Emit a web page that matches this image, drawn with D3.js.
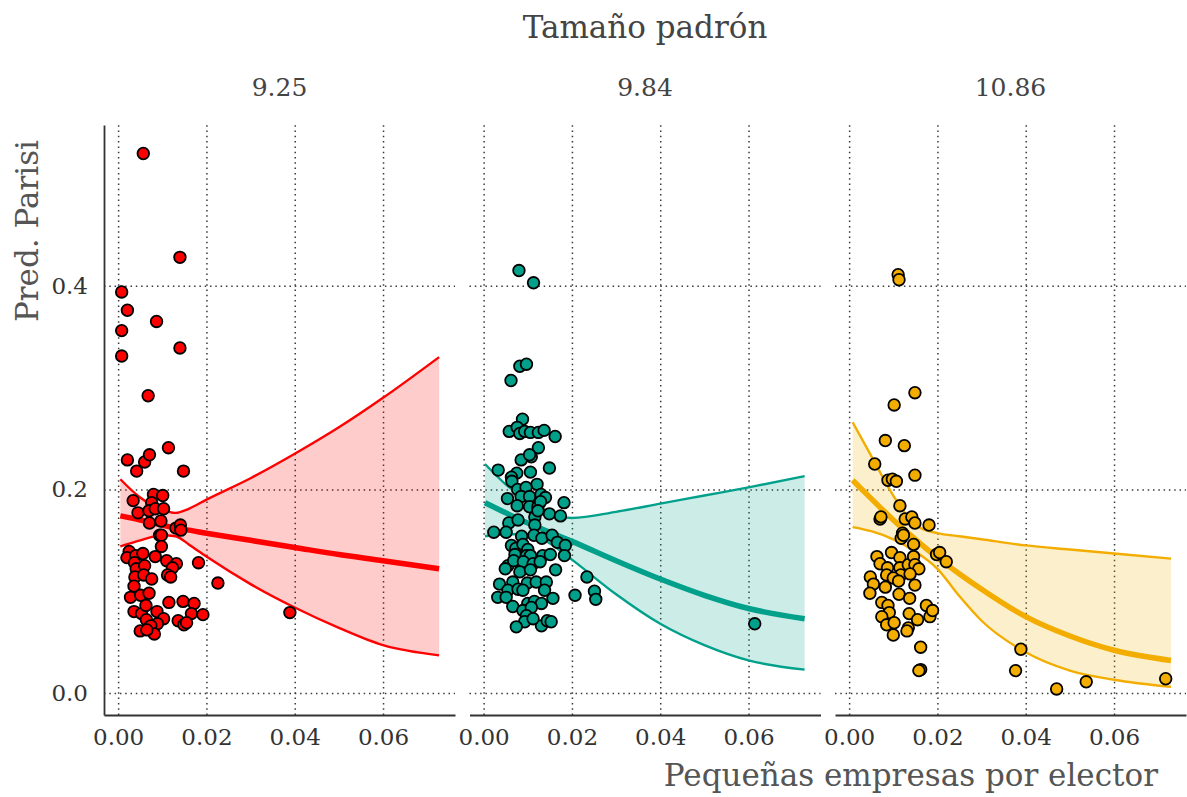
<!DOCTYPE html>
<html>
<head>
<meta charset="utf-8">
<script src="https://cdn.jsdelivr.net/npm/d3@7"></script>
<style>
  body { margin: 0; background: #fff; }
  text { font-family: "DejaVu Serif", serif; }
  .grid line { stroke: #3a3a3a; stroke-width: 1.5; stroke-dasharray: 1.5,3.8; }
  .grid path { display: none; }
</style>
</head>
<body>
<div id="chart"></div>
<script>
// facet labels and colours
const panelLabels = ["9.25", "9.84", "10.86"];
const panelColors = ["#FF0000", "#00A08A", "#F2AD00"];
const xTicks = [0, 0.02, 0.04, 0.06];
const yTicks = [0, 0.2, 0.4];

// observed points [pequeñas empresas por elector, pred. Parisi]
const pointsRed = [
  [0.0057,0.530],[0.0140,0.428],[0.0008,0.394],[0.0021,0.376],[0.0087,0.365],[0.0008,0.356],
  [0.0140,0.339],[0.0008,0.331],[0.0068,0.292],
  [0.0021,0.229],[0.0060,0.227],[0.0071,0.234],[0.0114,0.241],[0.0042,0.218],[0.0148,0.218],
  [0.0034,0.189],[0.0080,0.195],[0.0101,0.194],[0.0076,0.187],[0.0045,0.177],[0.0070,0.179],
  [0.0084,0.181],[0.0103,0.181],[0.0071,0.167],[0.0097,0.169],[0.0131,0.162],[0.0141,0.165],
  [0.0142,0.160],[0.0094,0.155],[0.0098,0.155],[0.0098,0.144],[0.0025,0.139],[0.0020,0.133],
  [0.0040,0.135],[0.0056,0.137],[0.0037,0.128],[0.0041,0.122],[0.0060,0.125],[0.0084,0.134],
  [0.0110,0.130],[0.0132,0.127],[0.0123,0.123],[0.0182,0.128],[0.0038,0.114],[0.0058,0.116],
  [0.0076,0.112],[0.0112,0.116],[0.0119,0.114],[0.0036,0.105],[0.0226,0.108],[0.0028,0.094],
  [0.0051,0.096],[0.0070,0.098],[0.0036,0.080],[0.0053,0.078],[0.0063,0.086],[0.0088,0.080],
  [0.0115,0.089],[0.0147,0.090],[0.0172,0.088],[0.0166,0.078],[0.0192,0.077],[0.0064,0.072],
  [0.0103,0.073],[0.0136,0.071],[0.0149,0.067],[0.0155,0.069],[0.0050,0.061],[0.0072,0.065],
  [0.0089,0.068],[0.0074,0.066],[0.0082,0.058],[0.0065,0.062],[0.0389,0.079]
];
const pointsTeal = [
  [0.0080,0.415],[0.0113,0.403],[0.0082,0.321],[0.0097,0.323],[0.0062,0.307],
  [0.0088,0.269],[0.0058,0.257],[0.0076,0.261],[0.0082,0.255],[0.0093,0.257],[0.0106,0.256],
  [0.0124,0.256],[0.0137,0.258],[0.0162,0.252],[0.0124,0.241],[0.0108,0.232],[0.0085,0.229],
  [0.0104,0.234],[0.0033,0.219],[0.0075,0.216],[0.0106,0.217],[0.0149,0.221],[0.0063,0.212],
  [0.0064,0.208],[0.0121,0.205],[0.0077,0.200],[0.0096,0.202],[0.0054,0.191],[0.0085,0.193],
  [0.0104,0.193],[0.0130,0.195],[0.0140,0.192],[0.0182,0.187],[0.0076,0.184],[0.0104,0.183],
  [0.0123,0.183],[0.0129,0.188],[0.0149,0.176],[0.0174,0.174],[0.0057,0.167],[0.0078,0.170],
  [0.0116,0.173],[0.0123,0.179],[0.0023,0.158],[0.0051,0.158],[0.0086,0.154],[0.0116,0.165],
  [0.0114,0.155],[0.0132,0.152],[0.0155,0.155],[0.0167,0.148],[0.0185,0.145],[0.0183,0.135],
  [0.0063,0.145],[0.0073,0.142],[0.0089,0.146],[0.0100,0.141],[0.0071,0.136],[0.0097,0.135],
  [0.0106,0.135],[0.0134,0.135],[0.0151,0.136],[0.0055,0.125],[0.0068,0.130],[0.0090,0.129],
  [0.0112,0.127],[0.0128,0.129],[0.0049,0.122],[0.0082,0.119],[0.0106,0.121],[0.0163,0.121],
  [0.0234,0.114],[0.0036,0.107],[0.0066,0.109],[0.0099,0.108],[0.0119,0.109],[0.0142,0.109],
  [0.0032,0.094],[0.0055,0.101],[0.0078,0.102],[0.0089,0.101],[0.0138,0.101],[0.0157,0.093],
  [0.0051,0.094],[0.0066,0.085],[0.0100,0.088],[0.0115,0.090],[0.0131,0.088],[0.0207,0.096],
  [0.0251,0.100],[0.0254,0.092],[0.0089,0.081],[0.0108,0.084],[0.0097,0.076],[0.0093,0.070],
  [0.0074,0.065],[0.0131,0.066],[0.0144,0.071],[0.0153,0.070],[0.0112,0.073],[0.0614,0.068]
];
const pointsYellow = [
  [0.0111,0.411],[0.0113,0.406],[0.0149,0.295],[0.0102,0.283],
  [0.0082,0.248],[0.0125,0.243],[0.0058,0.225],[0.0149,0.214],[0.0088,0.209],[0.0098,0.210],
  [0.0107,0.208],[0.0115,0.184],[0.0070,0.171],[0.0072,0.173],[0.0127,0.171],[0.0142,0.173],
  [0.0149,0.167],[0.0181,0.165],[0.0121,0.157],[0.0118,0.152],[0.0123,0.155],[0.0146,0.146],
  [0.0198,0.136],[0.0205,0.138],[0.0220,0.129],[0.0063,0.134],[0.0096,0.138],[0.0115,0.133],
  [0.0070,0.127],[0.0087,0.123],[0.0115,0.123],[0.0134,0.126],[0.0146,0.134],[0.0149,0.126],
  [0.0158,0.122],[0.0085,0.116],[0.0117,0.116],[0.0048,0.114],[0.0055,0.107],[0.0082,0.104],
  [0.0100,0.113],[0.0112,0.110],[0.0138,0.117],[0.0047,0.098],[0.0149,0.106],[0.0113,0.097],
  [0.0137,0.093],[0.0074,0.089],[0.0088,0.086],[0.0091,0.079],[0.0136,0.078],[0.0175,0.086],
  [0.0183,0.075],[0.0189,0.081],[0.0074,0.075],[0.0085,0.067],[0.0102,0.069],[0.0155,0.072],
  [0.0134,0.064],[0.0131,0.061],[0.0100,0.057],[0.0162,0.045],[0.0162,0.023],[0.0158,0.022],
  [0.0389,0.043],[0.0377,0.022],[0.0470,0.004],[0.0537,0.011],[0.0717,0.014]
];

// predicted curve with interval
const fitXRed = [0.0005, 0.005, 0.01, 0.013, 0.016, 0.02, 0.03, 0.04, 0.05, 0.06, 0.0727];
const meanRed = [0.174, 0.170, 0.165, 0.162, 0.160, 0.157, 0.150, 0.143, 0.136, 0.130, 0.122];
const highRed = [0.210, 0.192, 0.180, 0.177, 0.181, 0.190, 0.211, 0.235, 0.261, 0.290, 0.330];
const lowRed  = [0.144, 0.150, 0.155, 0.154, 0.146, 0.134, 0.107, 0.084, 0.064, 0.047, 0.037];

const fitXTeal = [0.0003, 0.005, 0.01, 0.015, 0.02, 0.03, 0.04, 0.05, 0.06, 0.0727];
const meanTeal = [0.187, 0.177, 0.167, 0.158, 0.149, 0.130, 0.112, 0.096, 0.083, 0.073];
const highTeal = [0.225, 0.205, 0.189, 0.177, 0.172, 0.178, 0.186, 0.194, 0.202, 0.213];
const lowTeal  = [0.154, 0.156, 0.156, 0.147, 0.131, 0.097, 0.068, 0.047, 0.032, 0.023];

const fitXYellow = [0.0008, 0.005, 0.01, 0.015, 0.02, 0.025, 0.03, 0.04, 0.05, 0.06, 0.0729];
const meanYellow = [0.209, 0.191, 0.170, 0.151, 0.133, 0.117, 0.102, 0.075, 0.056, 0.042, 0.032];
const highYellow = [0.266, 0.233, 0.194, 0.165, 0.157, 0.154, 0.151, 0.145, 0.141, 0.137, 0.132];
const lowYellow  = [0.163, 0.159, 0.151, 0.139, 0.122, 0.095, 0.071, 0.040, 0.022, 0.013, 0.006];

const panels = [
  { points: pointsRed, fx: fitXRed, mean: meanRed, hi: highRed, lo: lowRed },
  { points: pointsTeal, fx: fitXTeal, mean: meanTeal, hi: highTeal, lo: lowTeal },
  { points: pointsYellow, fx: fitXYellow, mean: meanYellow, hi: highYellow, lo: lowYellow }
];

var width = 1187, height = 797;
var plotTop = 125, plotH = 590, panelW = 351, panelGap = 14.5, firstLeft = 104;

var svg = d3.select("#chart")
  .append("svg")
  .attr("width", width)
  .attr("height", height)
  .style("display", "block");

svg.append("rect").attr("width", width).attr("height", height).attr("fill", "#fff");

var y = d3.scaleLinear().domain([-0.0216, 0.558]).range([plotH, 0]);

panels.forEach(function (p, i) {
  var color = panelColors[i];
  var left = firstLeft + i * (panelW + panelGap);
  var x = d3.scaleLinear().domain([-0.0032, 0.0763]).range([0, panelW]);

  var g = svg.append("g").attr("transform", "translate(" + left + "," + plotTop + ")");

  // dotted gridlines
  g.append("g")
    .attr("class", "grid")
    .attr("transform", "translate(0," + plotH + ")")
    .call(d3.axisBottom(x).tickValues(xTicks).tickSize(-plotH).tickFormat(""));
  g.append("g")
    .attr("class", "grid")
    .call(d3.axisLeft(y).tickValues(yTicks).tickSize(-panelW).tickFormat(""));

  // ribbon + bounds + mean
  var rows = p.fx.map((v, k) => ({ x: v, m: p.mean[k], hi: p.hi[k], lo: p.lo[k] }));
  var curve = d3.curveMonotoneX;

  g.append("path")
    .datum(rows)
    .attr("d", d3.area().x(d => x(d.x)).y0(d => y(d.lo)).y1(d => y(d.hi)).curve(curve))
    .attr("fill", color)
    .attr("fill-opacity", 0.2);

  ["hi", "lo"].forEach(function (k) {
    g.append("path")
      .datum(rows)
      .attr("d", d3.line().x(d => x(d.x)).y(d => y(d[k])).curve(curve))
      .attr("fill", "none")
      .attr("stroke", color)
      .attr("stroke-width", 2.4);
  });

  g.append("path")
    .datum(rows)
    .attr("d", d3.line().x(d => x(d.x)).y(d => y(d.m)).curve(curve))
    .attr("fill", "none")
    .attr("stroke", color)
    .attr("stroke-width", 5.5);

  // points
  g.selectAll(".pt")
    .data(p.points)
    .enter()
    .append("circle")
    .attr("cx", d => x(d[0]))
    .attr("cy", d => y(d[1]))
    .attr("r", 5.8)
    .attr("fill", color)
    .attr("stroke", "#000")
    .attr("stroke-width", 1.8);

  // x axis
  var xAxis = g.append("g")
    .attr("transform", "translate(0," + plotH + ")")
    .call(d3.axisBottom(x).tickValues(xTicks).tickSize(0).tickSizeOuter(0).tickPadding(14)
      .tickFormat(d3.format(".2f")));
  xAxis.select(".domain").attr("stroke", "#333").attr("stroke-width", 1.8);
  xAxis.selectAll("text").attr("fill", "#333").style("font-size", "23px");

  // y axis only on first panel
  if (i === 0) {
    var yAxis = g.append("g")
      .call(d3.axisLeft(y).tickValues(yTicks).tickSize(0).tickSizeOuter(0).tickPadding(16)
        .tickFormat(d3.format(".1f")));
    yAxis.select(".domain").attr("stroke", "#333").attr("stroke-width", 1.8);
    yAxis.selectAll("text").attr("fill", "#333").style("font-size", "23px");
  }

  // strip label
  svg.append("text")
    .attr("x", left + panelW / 2)
    .attr("y", 87)
    .attr("dy", "0.35em")
    .attr("text-anchor", "middle")
    .attr("fill", "#444")
    .style("font-size", "25px")
    .text(panelLabels[i]);
});

// titles
svg.append("text")
  .attr("x", 645)
  .attr("y", 27)
  .attr("dy", "0.35em")
  .attr("text-anchor", "middle")
  .attr("fill", "#444")
  .style("font-size", "31px")
  .text("Tamaño padrón");

svg.append("text")
  .attr("x", 1158)
  .attr("y", 775)
  .attr("dy", "0.35em")
  .attr("text-anchor", "end")
  .attr("fill", "#555")
  .style("font-size", "31px")
  .text("Pequeñas empresas por elector");

svg.append("text")
  .attr("transform", "translate(27,140) rotate(-90)")
  .attr("dy", "0.35em")
  .attr("text-anchor", "end")
  .attr("fill", "#555")
  .style("font-size", "31px")
  .text("Pred. Parisi");
</script>
</body>
</html>
